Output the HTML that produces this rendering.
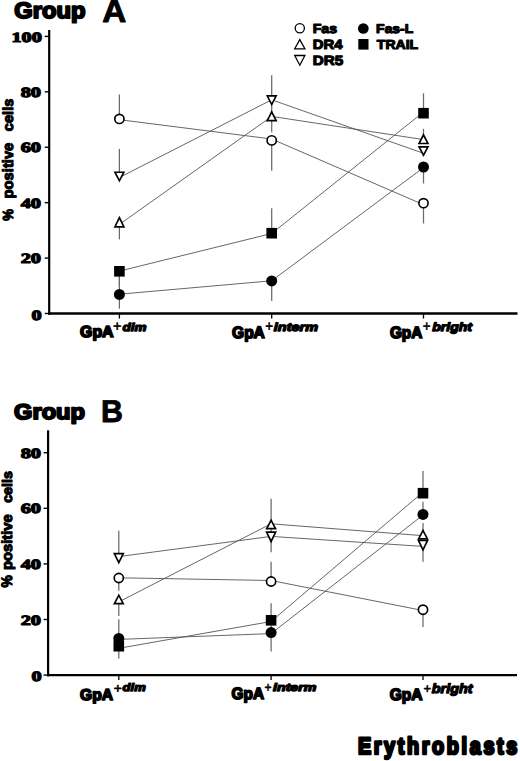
<!DOCTYPE html>
<html><head><meta charset="utf-8"><title>Figure</title>
<style>html,body{margin:0;padding:0;background:#fff;width:520px;height:761px;overflow:hidden;}svg{display:block;font-family:"Liberation Sans",sans-serif;}</style></head>
<body>
<svg width="520" height="761" viewBox="0 0 520 761" text-rendering="geometricPrecision">
<rect width="520" height="761" fill="#fff"/>
<text x="14.263" y="17.862" font-family="Liberation Sans" font-weight="bold" font-size="22.261" textLength="71.355" lengthAdjust="spacingAndGlyphs" stroke="#000" stroke-width="1.9" stroke-linejoin="round">Group</text>
<text x="102.141" y="21.989" font-family="Liberation Sans" font-weight="bold" font-size="31.998" textLength="24.037" lengthAdjust="spacingAndGlyphs" stroke="#000" stroke-width="0.9" stroke-linejoin="round">A</text>
<line x1="49.2" y1="30.0" x2="49.2" y2="314.7" stroke="#000" stroke-width="2.2"/>
<line x1="48.1" y1="313.5" x2="517.5" y2="313.5" stroke="#000" stroke-width="2.3"/>
<line x1="44.7" y1="313.50" x2="49.2" y2="313.50" stroke="#000" stroke-width="1.4"/>
<line x1="44.7" y1="258.08" x2="49.2" y2="258.08" stroke="#000" stroke-width="1.4"/>
<line x1="44.7" y1="202.66" x2="49.2" y2="202.66" stroke="#000" stroke-width="1.4"/>
<line x1="44.7" y1="147.24" x2="49.2" y2="147.24" stroke="#000" stroke-width="1.4"/>
<line x1="44.7" y1="91.82" x2="49.2" y2="91.82" stroke="#000" stroke-width="1.4"/>
<line x1="44.7" y1="36.40" x2="49.2" y2="36.40" stroke="#000" stroke-width="1.4"/>
<text x="41.60" y="319.66" text-anchor="end" font-family="Liberation Serif" font-weight="bold" font-size="14.1" textLength="10.15" lengthAdjust="spacingAndGlyphs" stroke="#000" stroke-width="1.1" stroke-linejoin="round">0</text>
<text x="41.00" y="263.24" text-anchor="end" font-family="Liberation Serif" font-weight="bold" font-size="14.1" textLength="20.30" lengthAdjust="spacingAndGlyphs" stroke="#000" stroke-width="1.1" stroke-linejoin="round">20</text>
<text x="41.00" y="207.82" text-anchor="end" font-family="Liberation Serif" font-weight="bold" font-size="14.1" textLength="20.30" lengthAdjust="spacingAndGlyphs" stroke="#000" stroke-width="1.1" stroke-linejoin="round">40</text>
<text x="41.00" y="152.40" text-anchor="end" font-family="Liberation Serif" font-weight="bold" font-size="14.1" textLength="20.30" lengthAdjust="spacingAndGlyphs" stroke="#000" stroke-width="1.1" stroke-linejoin="round">60</text>
<text x="41.00" y="96.98" text-anchor="end" font-family="Liberation Serif" font-weight="bold" font-size="14.1" textLength="20.30" lengthAdjust="spacingAndGlyphs" stroke="#000" stroke-width="1.1" stroke-linejoin="round">80</text>
<text x="41.90" y="41.56" text-anchor="end" font-family="Liberation Serif" font-weight="bold" font-size="14.1" textLength="30.45" lengthAdjust="spacingAndGlyphs" stroke="#000" stroke-width="1.1" stroke-linejoin="round">100</text>
<g transform="rotate(-90)">
<text x="-220.698" y="12.943" font-family="Liberation Sans" font-weight="bold" font-size="14.555" textLength="11.710" lengthAdjust="spacingAndGlyphs" stroke="#000" stroke-width="1.1" stroke-linejoin="round">%</text>
<text x="-198.376" y="12.945" font-family="Liberation Sans" font-weight="bold" font-size="14.954" textLength="55.631" lengthAdjust="spacingAndGlyphs" stroke="#000" stroke-width="1.1" stroke-linejoin="round">positive</text>
<text x="-131.227" y="12.618" font-family="Liberation Sans" font-weight="bold" font-size="14.441" textLength="32.567" lengthAdjust="spacingAndGlyphs" stroke="#000" stroke-width="1.1" stroke-linejoin="round">cells</text>
</g>
<circle cx="299.8" cy="28.3" r="4.6" fill="#fff" stroke="#000" stroke-width="1.3"/>
<path d="M299.8 39.6 L304.90000000000003 48.8 L294.7 48.8 Z" fill="#fff" stroke="#000" stroke-width="1.3"/>
<path d="M294.7 55.5 L304.90000000000003 55.5 L299.8 65.2 Z" fill="#fff" stroke="#000" stroke-width="1.3"/>
<circle cx="363.3" cy="28.5" r="5.35" fill="#000"/>
<rect x="358.3" y="39.0" width="10.2" height="10.6" fill="#000"/>
<text x="312.649" y="32.671" font-family="Liberation Sans" font-weight="bold" font-size="13.093" textLength="24.459" lengthAdjust="spacingAndGlyphs" stroke="#000" stroke-width="1.1" stroke-linejoin="round">Fas</text>
<text x="312.804" y="49.411" font-family="Liberation Sans" font-weight="bold" font-size="13.426" textLength="29.729" lengthAdjust="spacingAndGlyphs" stroke="#000" stroke-width="1.1" stroke-linejoin="round">DR4</text>
<text x="312.773" y="64.968" font-family="Liberation Sans" font-weight="bold" font-size="13.537" textLength="30.416" lengthAdjust="spacingAndGlyphs" stroke="#000" stroke-width="1.1" stroke-linejoin="round">DR5</text>
<text x="376.133" y="32.837" font-family="Liberation Sans" font-weight="bold" font-size="12.615" textLength="37.145" lengthAdjust="spacingAndGlyphs" stroke="#000" stroke-width="1.1" stroke-linejoin="round">Fas-L</text>
<text x="376.857" y="48.663" font-family="Liberation Sans" font-weight="bold" font-size="13.183" textLength="41.275" lengthAdjust="spacingAndGlyphs" stroke="#000" stroke-width="1.1" stroke-linejoin="round">TRAIL</text>
<line x1="119.4" y1="313.5" x2="119.4" y2="318.5" stroke="#000" stroke-width="1.3"/>
<line x1="271.7" y1="313.5" x2="271.7" y2="318.5" stroke="#000" stroke-width="1.3"/>
<line x1="423.5" y1="313.5" x2="423.5" y2="318.5" stroke="#000" stroke-width="1.3"/>
<text x="80.069" y="337.431" font-family="Liberation Sans" font-weight="bold" font-size="15.975" textLength="33.527" lengthAdjust="spacingAndGlyphs" stroke="#000" stroke-width="1.7" stroke-linejoin="round">GpA</text>
<text x="232.069" y="337.741" font-family="Liberation Sans" font-weight="bold" font-size="16.449" textLength="32.763" lengthAdjust="spacingAndGlyphs" stroke="#000" stroke-width="1.7" stroke-linejoin="round">GpA</text>
<text x="389.927" y="338.128" font-family="Liberation Sans" font-weight="bold" font-size="16.255" textLength="32.386" lengthAdjust="spacingAndGlyphs" stroke="#000" stroke-width="1.7" stroke-linejoin="round">GpA</text>
<text x="113.018" y="331.105" font-family="Liberation Sans" font-weight="normal" font-size="14.500" textLength="8.453" lengthAdjust="spacingAndGlyphs" stroke="#000" stroke-width="0.6" stroke-linejoin="round">+</text>
<text x="265.212" y="330.978" font-family="Liberation Sans" font-weight="normal" font-size="14.579" textLength="7.865" lengthAdjust="spacingAndGlyphs" stroke="#000" stroke-width="0.6" stroke-linejoin="round">+</text>
<text x="422.698" y="331.106" font-family="Liberation Sans" font-weight="normal" font-size="14.820" textLength="7.833" lengthAdjust="spacingAndGlyphs" stroke="#000" stroke-width="0.6" stroke-linejoin="round">+</text>
<text x="122.624" y="330.861" font-family="Liberation Sans" font-weight="bold" font-style="italic" font-size="11.319" textLength="24.055" lengthAdjust="spacingAndGlyphs" stroke="#000" stroke-width="1.25" stroke-linejoin="round">dim</text>
<text x="273.865" y="330.908" font-family="Liberation Sans" font-weight="bold" font-style="italic" font-size="11.733" textLength="44.141" lengthAdjust="spacingAndGlyphs" stroke="#000" stroke-width="1.25" stroke-linejoin="round">interm</text>
<text x="432.157" y="331.415" font-family="Liberation Sans" font-weight="bold" font-style="italic" font-size="12.042" textLength="39.888" lengthAdjust="spacingAndGlyphs" stroke="#000" stroke-width="1.25" stroke-linejoin="round">bright</text>
<line x1="119.4" y1="94.5" x2="119.4" y2="119" stroke="#6a6a6a" stroke-width="1.25"/>
<line x1="119.4" y1="148.9" x2="119.4" y2="176" stroke="#6a6a6a" stroke-width="1.25"/>
<line x1="119.4" y1="222" x2="119.4" y2="239.4" stroke="#6a6a6a" stroke-width="1.25"/>
<line x1="119.4" y1="271" x2="119.4" y2="286" stroke="#6a6a6a" stroke-width="1.25"/>
<line x1="119.4" y1="271" x2="119.4" y2="308.8" stroke="#6a6a6a" stroke-width="1.25"/>
<line x1="271.7" y1="75.3" x2="271.7" y2="132.3" stroke="#6a6a6a" stroke-width="1.25"/>
<line x1="271.7" y1="141" x2="271.7" y2="170.7" stroke="#6a6a6a" stroke-width="1.25"/>
<line x1="271.7" y1="208.3" x2="271.7" y2="233" stroke="#6a6a6a" stroke-width="1.25"/>
<line x1="271.7" y1="281" x2="271.7" y2="300.9" stroke="#6a6a6a" stroke-width="1.25"/>
<line x1="423.5" y1="93.3" x2="423.5" y2="113" stroke="#6a6a6a" stroke-width="1.25"/>
<line x1="423.5" y1="128.8" x2="423.5" y2="139" stroke="#6a6a6a" stroke-width="1.25"/>
<line x1="423.5" y1="167" x2="423.5" y2="183.5" stroke="#6a6a6a" stroke-width="1.25"/>
<line x1="423.5" y1="203" x2="423.5" y2="223.5" stroke="#6a6a6a" stroke-width="1.25"/>
<polyline points="119.40,119.70 271.70,139.00 423.50,204.70" stroke="#555" stroke-width="0.9" fill="none"/>
<polyline points="119.40,294.20 271.70,280.80 423.50,167.60" stroke="#555" stroke-width="0.9" fill="none"/>
<polyline points="119.40,224.40 271.70,116.40 423.50,139.60" stroke="#555" stroke-width="0.9" fill="none"/>
<polyline points="119.40,177.50 271.70,99.80 423.50,153.30" stroke="#555" stroke-width="0.9" fill="none"/>
<polyline points="119.40,271.10 271.70,233.50 423.50,112.00" stroke="#555" stroke-width="0.9" fill="none"/>
<circle cx="119.4" cy="118.9" r="4.6" fill="#fff" stroke="#000" stroke-width="1.65"/>
<circle cx="119.4" cy="294.4" r="5.5" fill="#000"/>
<rect x="114.10" y="266.00" width="10.6" height="10.6" fill="#000"/>
<path d="M119.40 215.80 L125.20 227.70 L113.60 227.70 Z" fill="#000"/><path d="M119.40 219.57 L122.56 226.05 L116.24 226.05 Z" fill="#fff"/>
<path d="M113.60 171.40 L125.20 171.40 L119.40 182.60 Z" fill="#000"/><path d="M116.31 173.05 L122.49 173.05 L119.40 179.01 Z" fill="#fff"/>
<circle cx="271.7" cy="140.4" r="4.6" fill="#fff" stroke="#000" stroke-width="1.65"/>
<circle cx="271.7" cy="280.9" r="5.5" fill="#000"/>
<rect x="266.40" y="227.90" width="10.6" height="10.6" fill="#000"/>
<path d="M271.70 110.10 L277.50 121.50 L265.90 121.50 Z" fill="#000"/><path d="M271.70 113.74 L274.81 119.85 L268.59 119.85 Z" fill="#fff"/>
<path d="M265.90 95.00 L277.50 95.00 L271.70 106.30 Z" fill="#000"/><path d="M268.60 96.65 L274.80 96.65 L271.70 102.69 Z" fill="#fff"/>
<circle cx="423.5" cy="203.2" r="4.6" fill="#fff" stroke="#000" stroke-width="1.65"/>
<circle cx="423.5" cy="167.0" r="5.5" fill="#000"/>
<rect x="418.20" y="107.90" width="10.6" height="10.6" fill="#000"/>
<path d="M423.50 133.10 L429.30 144.30 L417.70 144.30 Z" fill="#000"/><path d="M423.50 136.69 L426.59 142.65 L420.41 142.65 Z" fill="#fff"/>
<path d="M417.70 146.00 L429.30 146.00 L423.50 157.00 Z" fill="#000"/><path d="M420.44 147.65 L426.56 147.65 L423.50 153.46 Z" fill="#fff"/>
<text x="14.090" y="419.319" font-family="Liberation Sans" font-weight="bold" font-size="21.392" textLength="70.943" lengthAdjust="spacingAndGlyphs" stroke="#000" stroke-width="1.9" stroke-linejoin="round">Group</text>
<text x="101.112" y="422.210" font-family="Liberation Sans" font-weight="bold" font-size="31.451" textLength="21.894" lengthAdjust="spacingAndGlyphs" stroke="#000" stroke-width="0.9" stroke-linejoin="round">B</text>
<line x1="48.1" y1="430.3" x2="48.1" y2="676.3000000000001" stroke="#000" stroke-width="2.2"/>
<line x1="47.0" y1="675.1" x2="517" y2="675.1" stroke="#000" stroke-width="2.3"/>
<line x1="43.6" y1="675.10" x2="48.1" y2="675.10" stroke="#000" stroke-width="1.4"/>
<line x1="43.6" y1="619.50" x2="48.1" y2="619.50" stroke="#000" stroke-width="1.4"/>
<line x1="43.6" y1="563.90" x2="48.1" y2="563.90" stroke="#000" stroke-width="1.4"/>
<line x1="43.6" y1="508.30" x2="48.1" y2="508.30" stroke="#000" stroke-width="1.4"/>
<line x1="43.6" y1="452.70" x2="48.1" y2="452.70" stroke="#000" stroke-width="1.4"/>
<text x="41.60" y="681.26" text-anchor="end" font-family="Liberation Serif" font-weight="bold" font-size="14.1" textLength="10.15" lengthAdjust="spacingAndGlyphs" stroke="#000" stroke-width="1.1" stroke-linejoin="round">0</text>
<text x="41.00" y="624.66" text-anchor="end" font-family="Liberation Serif" font-weight="bold" font-size="14.1" textLength="20.30" lengthAdjust="spacingAndGlyphs" stroke="#000" stroke-width="1.1" stroke-linejoin="round">20</text>
<text x="41.00" y="569.06" text-anchor="end" font-family="Liberation Serif" font-weight="bold" font-size="14.1" textLength="20.30" lengthAdjust="spacingAndGlyphs" stroke="#000" stroke-width="1.1" stroke-linejoin="round">40</text>
<text x="41.00" y="513.46" text-anchor="end" font-family="Liberation Serif" font-weight="bold" font-size="14.1" textLength="20.30" lengthAdjust="spacingAndGlyphs" stroke="#000" stroke-width="1.1" stroke-linejoin="round">60</text>
<text x="41.00" y="457.86" text-anchor="end" font-family="Liberation Serif" font-weight="bold" font-size="14.1" textLength="20.30" lengthAdjust="spacingAndGlyphs" stroke="#000" stroke-width="1.1" stroke-linejoin="round">80</text>
<g transform="rotate(-90)">
<text x="-587.624" y="12.063" font-family="Liberation Sans" font-weight="bold" font-size="15.225" textLength="12.286" lengthAdjust="spacingAndGlyphs" stroke="#000" stroke-width="1.1" stroke-linejoin="round">%</text>
<text x="-569.910" y="11.762" font-family="Liberation Sans" font-weight="bold" font-size="14.639" textLength="55.571" lengthAdjust="spacingAndGlyphs" stroke="#000" stroke-width="1.1" stroke-linejoin="round">positive</text>
<text x="-502.861" y="11.831" font-family="Liberation Sans" font-weight="bold" font-size="13.956" textLength="31.894" lengthAdjust="spacingAndGlyphs" stroke="#000" stroke-width="1.1" stroke-linejoin="round">cells</text>
</g>
<line x1="118.8" y1="675.1" x2="118.8" y2="680.1" stroke="#000" stroke-width="1.3"/>
<line x1="271.1" y1="675.1" x2="271.1" y2="680.1" stroke="#000" stroke-width="1.3"/>
<line x1="423.0" y1="675.1" x2="423.0" y2="680.1" stroke="#000" stroke-width="1.3"/>
<text x="80.114" y="699.645" font-family="Liberation Sans" font-weight="bold" font-size="15.776" textLength="32.812" lengthAdjust="spacingAndGlyphs" stroke="#000" stroke-width="1.7" stroke-linejoin="round">GpA</text>
<text x="231.610" y="699.205" font-family="Liberation Sans" font-weight="bold" font-size="16.244" textLength="32.369" lengthAdjust="spacingAndGlyphs" stroke="#000" stroke-width="1.7" stroke-linejoin="round">GpA</text>
<text x="389.653" y="699.833" font-family="Liberation Sans" font-weight="bold" font-size="16.243" textLength="32.775" lengthAdjust="spacingAndGlyphs" stroke="#000" stroke-width="1.7" stroke-linejoin="round">GpA</text>
<text x="113.682" y="693.202" font-family="Liberation Sans" font-weight="normal" font-size="13.841" textLength="8.145" lengthAdjust="spacingAndGlyphs" stroke="#000" stroke-width="0.6" stroke-linejoin="round">+</text>
<text x="264.453" y="692.190" font-family="Liberation Sans" font-weight="normal" font-size="14.019" textLength="7.051" lengthAdjust="spacingAndGlyphs" stroke="#000" stroke-width="0.6" stroke-linejoin="round">+</text>
<text x="423.380" y="693.286" font-family="Liberation Sans" font-weight="normal" font-size="13.189" textLength="7.520" lengthAdjust="spacingAndGlyphs" stroke="#000" stroke-width="0.6" stroke-linejoin="round">+</text>
<text x="122.612" y="691.383" font-family="Liberation Sans" font-weight="bold" font-style="italic" font-size="10.973" textLength="23.090" lengthAdjust="spacingAndGlyphs" stroke="#000" stroke-width="1.25" stroke-linejoin="round">dim</text>
<text x="273.018" y="691.210" font-family="Liberation Sans" font-weight="bold" font-style="italic" font-size="10.981" textLength="43.378" lengthAdjust="spacingAndGlyphs" stroke="#000" stroke-width="1.25" stroke-linejoin="round">interm</text>
<text x="431.765" y="693.446" font-family="Liberation Sans" font-weight="bold" font-style="italic" font-size="13.205" textLength="40.806" lengthAdjust="spacingAndGlyphs" stroke="#000" stroke-width="1.25" stroke-linejoin="round">bright</text>
<line x1="118.8" y1="530.7" x2="118.8" y2="558" stroke="#6a6a6a" stroke-width="1.25"/>
<line x1="118.8" y1="582" x2="118.8" y2="590.8" stroke="#6a6a6a" stroke-width="1.25"/>
<line x1="118.8" y1="600" x2="118.8" y2="615.9" stroke="#6a6a6a" stroke-width="1.25"/>
<line x1="118.8" y1="619.2" x2="118.8" y2="636" stroke="#6a6a6a" stroke-width="1.25"/>
<line x1="118.8" y1="640" x2="118.8" y2="658.4" stroke="#6a6a6a" stroke-width="1.25"/>
<line x1="271.1" y1="498.7" x2="271.1" y2="552.3" stroke="#6a6a6a" stroke-width="1.25"/>
<line x1="271.1" y1="561.8" x2="271.1" y2="581.5" stroke="#6a6a6a" stroke-width="1.25"/>
<line x1="271.1" y1="603.2" x2="271.1" y2="651.6" stroke="#6a6a6a" stroke-width="1.25"/>
<line x1="423.0" y1="471.0" x2="423.0" y2="495" stroke="#6a6a6a" stroke-width="1.25"/>
<line x1="423.0" y1="501.8" x2="423.0" y2="514" stroke="#6a6a6a" stroke-width="1.25"/>
<line x1="423.0" y1="523.0" x2="423.0" y2="561.7" stroke="#6a6a6a" stroke-width="1.25"/>
<line x1="423.0" y1="610.0" x2="423.0" y2="627.0" stroke="#6a6a6a" stroke-width="1.25"/>
<polyline points="118.80,577.80 271.10,580.50 423.00,610.50" stroke="#555" stroke-width="0.9" fill="none"/>
<polyline points="118.80,639.40 271.10,633.60 423.00,515.00" stroke="#555" stroke-width="0.9" fill="none"/>
<polyline points="118.80,601.90 271.10,523.80 423.00,535.70" stroke="#555" stroke-width="0.9" fill="none"/>
<polyline points="118.80,556.60 271.10,536.40 423.00,546.40" stroke="#555" stroke-width="0.9" fill="none"/>
<polyline points="118.80,648.30 271.10,621.50 423.00,492.10" stroke="#555" stroke-width="0.9" fill="none"/>
<circle cx="118.8" cy="578.0" r="4.6" fill="#fff" stroke="#000" stroke-width="1.65"/>
<rect x="113.50" y="640.90" width="10.6" height="10.6" fill="#000"/>
<circle cx="118.8" cy="638.4" r="5.5" fill="#000"/>
<path d="M118.80 593.50 L124.60 604.40 L113.00 604.40 Z" fill="#000"/><path d="M118.80 597.01 L121.85 602.75 L115.75 602.75 Z" fill="#fff"/>
<path d="M113.00 552.80 L124.60 552.80 L118.80 564.40 Z" fill="#000"/><path d="M115.67 554.45 L121.93 554.45 L118.80 560.71 Z" fill="#fff"/>
<circle cx="271.1" cy="581.5" r="4.6" fill="#fff" stroke="#000" stroke-width="1.65"/>
<rect x="265.80" y="615.00" width="10.6" height="10.6" fill="#000"/>
<circle cx="271.1" cy="632.6" r="5.5" fill="#000"/>
<path d="M271.10 518.60 L276.90 529.40 L265.30 529.40 Z" fill="#000"/><path d="M271.10 522.09 L274.14 527.75 L268.06 527.75 Z" fill="#fff"/>
<path d="M265.30 531.30 L276.90 531.30 L271.10 543.40 Z" fill="#000"/><path d="M267.92 532.95 L274.28 532.95 L271.10 539.58 Z" fill="#fff"/>
<circle cx="423.0" cy="609.7" r="4.6" fill="#fff" stroke="#000" stroke-width="1.65"/>
<rect x="417.70" y="487.90" width="10.6" height="10.6" fill="#000"/>
<circle cx="423.0" cy="514.4" r="5.5" fill="#000"/>
<path d="M423.00 528.80 L428.80 539.70 L417.20 539.70 Z" fill="#000"/><path d="M423.00 532.31 L426.05 538.05 L419.95 538.05 Z" fill="#fff"/>
<path d="M417.20 539.70 L428.80 539.70 L423.00 551.80 Z" fill="#000"/><path d="M419.82 541.35 L426.18 541.35 L423.00 547.98 Z" fill="#fff"/>
<text transform="scale(0.84 1)" x="426.07" y="753.6" font-family="Liberation Sans" font-weight="bold" font-size="23.6" textLength="189.76" lengthAdjust="spacing" stroke="#000" stroke-width="2.7" stroke-linejoin="round">Erythroblasts</text>
</svg>
</body></html>
